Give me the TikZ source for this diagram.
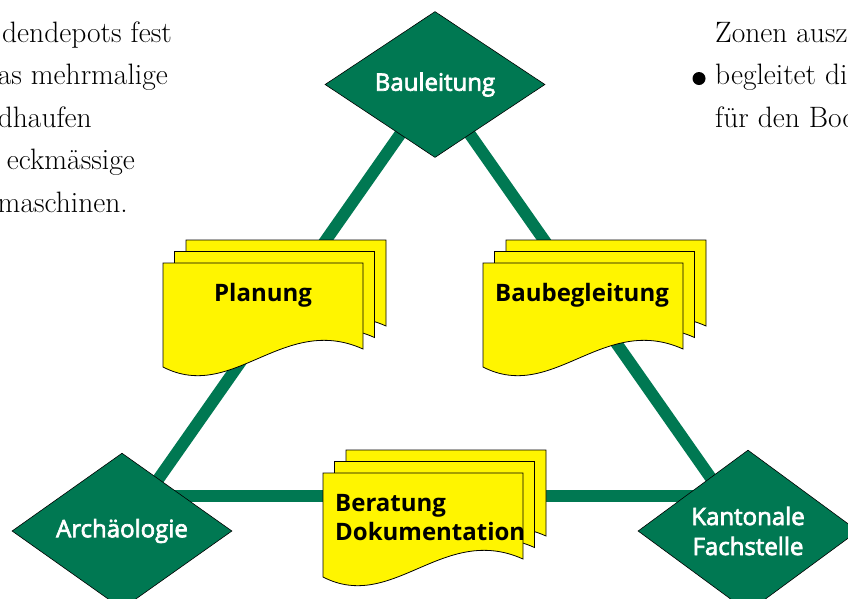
\documentclass[tikz,border=0pt]{standalone}
\usepackage{fontspec}
\newfontfamily\osans{Open Sans}
\newfontfamily\osanssb{Open Sans}[FakeBold=3]
\usetikzlibrary{shapes.geometric,backgrounds}
\definecolor{dgreen}{RGB}{0,120,82}
\definecolor{dyellow}{RGB}{255,245,0}
\tikzset{
  diam/.style={diamond, draw=black, line width=0.6pt, fill=dgreen, text=white,
    minimum width=220pt, minimum height=146pt, inner sep=0pt,
    font=\osanssb\fontsize{24}{30}\selectfont, align=center},
  link/.style={dgreen, line width=12pt},
  docpage/.style={fill=dyellow, draw=black, line width=0.8pt},
  doclabel/.style={font=\osans\bfseries\fontsize{24}{29}\selectfont, text=black, inner sep=0pt},
  body/.style={font=\fontsize{29.5}{42.5}\selectfont, inner sep=0pt, text=black},
}
\newcommand{\yellowpage}[2]{\draw[docpage, shift={(#1,#2)}] (0,0) -- (200,0) -- (200,86) .. controls (120,50) and (70,140) .. (0,104) -- cycle;}
\newcommand{\docstack}[2]{\yellowpage{#1+23}{#2-23}\yellowpage{#1+11.5}{#2-11.5}\yellowpage{#1}{#2}}
\begin{document}
\begin{tikzpicture}[x=1pt,y=-1pt]
\useasboundingbox (0,0) rectangle (848,598);
\clip (0,0) rectangle (848,598);
% diamonds
\node[diam] (bau) at (435,84.5) {Bauleitung};
\node[diam] (arch) at (122,531) {Archäologie};
\node[diam] (kant) at (748,531) {Kantonale\\Fachstelle};
% connectors
\begin{pgfonlayer}{background}
\draw[link] (bau.center) -- (arch.center);
\draw[link] (bau.center) -- (kant.center);
\draw[link] ([yshift=35pt]arch.center) -- ([yshift=35pt]kant.center);
\end{pgfonlayer}
% document stacks
\docstack{163}{263}
\docstack{483}{263}
\docstack{323}{473}
\node[doclabel, anchor=base] (plan) at (263,301) {Planung};
\node[doclabel, anchor=base] (baub) at (582,301) {Baubegleitung};
\node[doclabel, anchor=base west] (ber1) at (335,511) {Beratung};
\node[doclabel, anchor=base west] (ber2) at (335,540) {Dokumentation};
% body text, left column
\node[body, anchor=base east] (l1) at (172,42) {dendepots fest};
\node[body, anchor=base east] (l2) at (168,84.5) {as mehrmalige};
\node[body, anchor=base east] (l3) at (92,127) {dhaufen};
\node[body, anchor=base east] (l4) at (135,169.5) {eckmässige};
\node[body, anchor=base east] (l5) at (128,212) {maschinen.};
% body text, right column
\node[body, anchor=base west] (r1) at (715,42) {Zonen ausz};
\node[circle, fill=black, minimum size=13pt, inner sep=0pt] (bullet) at (699,78.5) {};
\node[body, anchor=base west] (r2) at (715,84.5) {begleitet di};
\node[body, anchor=base west] (r3) at (715,127) {für den Bod};
\end{tikzpicture}
\end{document}
